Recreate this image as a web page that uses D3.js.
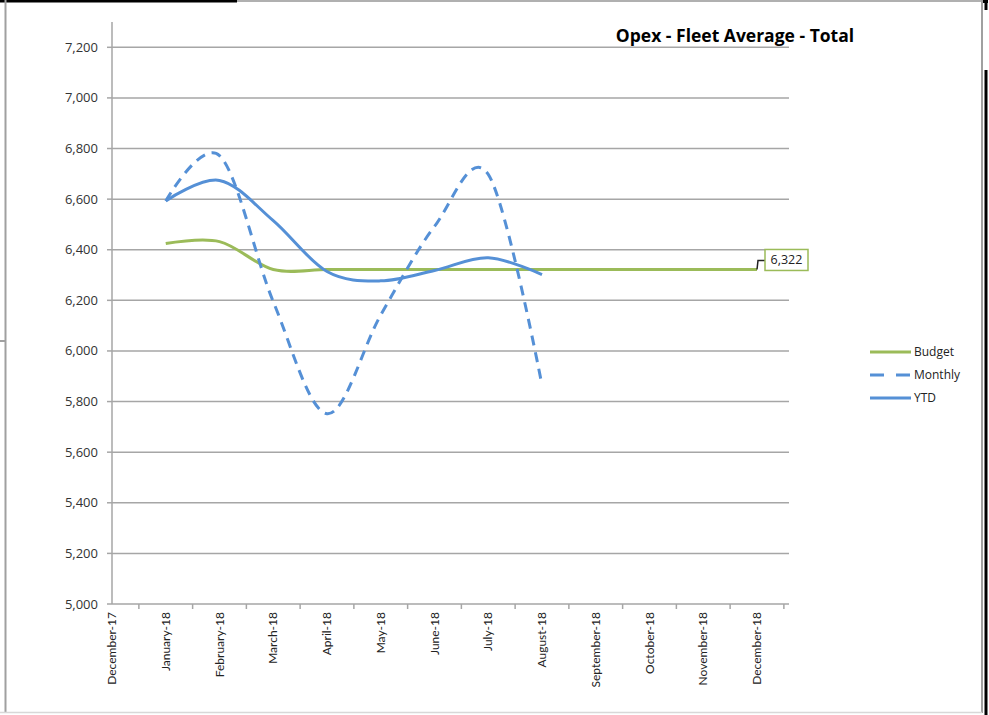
<!DOCTYPE html>
<html>
<head>
<meta charset="utf-8">
<script src="https://cdn.jsdelivr.net/npm/d3@7"></script>
<style>
    body { margin: 0; background: #ffffff; }
    svg { display: block; }
</style>
</head>
<body>
<svg id="chart"></svg>
<script>
const months = ['December-17', 'January-18', 'February-18', 'March-18', 'April-18', 'May-18', 'June-18',
    'July-18', 'August-18', 'September-18', 'October-18', 'November-18', 'December-18'];

const budgetMonths = ['January-18', 'February-18', 'March-18', 'April-18', 'May-18', 'June-18',
    'July-18', 'August-18', 'September-18', 'October-18', 'November-18', 'December-18'];
const budgetValues = [6425, 6432, 6322, 6322, 6322, 6322, 6322, 6322, 6322, 6322, 6322, 6322];

const actualMonths = ['January-18', 'February-18', 'March-18', 'April-18', 'May-18', 'June-18', 'July-18', 'August-18'];
const monthlyValues = [6593, 6772, 6195, 5752, 6142, 6492, 6698, 5865];
const ytdValues = [6593, 6674, 6515, 6314, 6277, 6318, 6368, 6302];

const yTicks = [5000, 5200, 5400, 5600, 5800, 6000, 6200, 6400, 6600, 6800, 7000, 7200];

const legendItems = ['Budget', 'Monthly', 'YTD'];

const budgetColor = '#9bbb59';
const blueColor = '#5590d6';
const gridColor = '#a6a6a6';
const fontFamily = 'Lato, "Open Sans", sans-serif';
const numberFont = '"Open Sans", sans-serif';

const width = 989;
const height = 715;

const svg = d3.select('#chart')
    .attr('width', width)
    .attr('height', height);

const x = d3.scalePoint()
    .domain(months)
    .range([112, 757]);

const y = d3.scaleLinear()
    .domain([5000, 7300])
    .range([604, 22]);

drawFrame();
drawGrid();
drawAxes();
drawSeries();
drawLabel();
drawLegend();

svg.append('text')
    .attr('x', 735)
    .attr('y', 42)
    .attr('text-anchor', 'middle')
    .style('font-family', '"Open Sans", sans-serif')
    .style('font-size', '17.5px')
    .style('font-weight', 'bold')
    .style('fill', '#000')
    .text('Opex - Fleet Average - Total');

function drawFrame() {
    // bits of the screenshot border around the chart
    const frame = svg.append('g');
    frame.append('line').attr('x1', 0).attr('y1', 1).attr('x2', 983).attr('y2', 1)
        .attr('stroke', '#b0b0b0').attr('stroke-width', 2);
    frame.append('line').attr('x1', 0).attr('y1', 1).attr('x2', 237).attr('y2', 1)
        .attr('stroke', '#000').attr('stroke-width', 3);
    frame.append('line').attr('x1', 5.5).attr('y1', 0).attr('x2', 5.5).attr('y2', 713)
        .attr('stroke', '#a0a0a0').attr('stroke-width', 2);
    frame.append('line').attr('x1', 0).attr('y1', 341).attr('x2', 6).attr('y2', 341)
        .attr('stroke', '#a0a0a0').attr('stroke-width', 2);
    frame.append('line').attr('x1', 982).attr('y1', 0).attr('x2', 982).attr('y2', 713)
        .attr('stroke', '#a0a0a0').attr('stroke-width', 2);
    frame.append('line').attr('x1', 0).attr('y1', 712.5).attr('x2', 982).attr('y2', 712.5)
        .attr('stroke', '#d8d8d8').attr('stroke-width', 1.5);
    frame.append('line').attr('x1', 986).attr('y1', 0).attr('x2', 986).attr('y2', 10)
        .attr('stroke', '#000').attr('stroke-width', 3);
    frame.append('line').attr('x1', 983).attr('y1', 1.5).attr('x2', 988).attr('y2', 1.5)
        .attr('stroke', '#000').attr('stroke-width', 3);
    frame.append('line').attr('x1', 986).attr('y1', 70).attr('x2', 986).attr('y2', 715)
        .attr('stroke', '#000').attr('stroke-width', 3);
}

function drawGrid() {
    svg.append('g')
        .selectAll('line')
        .data(yTicks.filter(d => d > 5000))
        .enter()
        .append('line')
        .attr('x1', 112)
        .attr('x2', 789)
        .attr('y1', d => y(d))
        .attr('y2', d => y(d))
        .attr('stroke', gridColor)
        .attr('stroke-width', 1.5);
}

function drawAxes() {
    const yAxis = svg.append('g');

    yAxis.append('line')
        .attr('x1', 112).attr('x2', 112)
        .attr('y1', y.range()[1]).attr('y2', y(5000))
        .attr('stroke', gridColor).attr('stroke-width', 1.5);

    yAxis.selectAll('.ytick')
        .data(yTicks)
        .enter()
        .append('line')
        .attr('class', 'ytick')
        .attr('x1', 107).attr('x2', 112)
        .attr('y1', d => y(d)).attr('y2', d => y(d))
        .attr('stroke', gridColor).attr('stroke-width', 1.5);

    yAxis.selectAll('.ylabel')
        .data(yTicks)
        .enter()
        .append('text')
        .attr('class', 'ylabel')
        .attr('x', 98)
        .attr('y', d => y(d) + 4.5)
        .attr('text-anchor', 'end')
        .style('font-family', numberFont)
        .style('font-size', '13px')
        .style('fill', '#333')
        .text(d => d3.format(',')(d));

    const step = x.step();
    const xAxis = svg.append('g');

    xAxis.append('line')
        .attr('x1', 112).attr('x2', 789)
        .attr('y1', y(5000)).attr('y2', y(5000))
        .attr('stroke', gridColor).attr('stroke-width', 1.5);

    xAxis.selectAll('.xtick')
        .data(months)
        .enter()
        .append('line')
        .attr('class', 'xtick')
        .attr('x1', d => x(d) + step / 2).attr('x2', d => x(d) + step / 2)
        .attr('y1', y(5000)).attr('y2', y(5000) + 5)
        .attr('stroke', gridColor).attr('stroke-width', 1.5);

    xAxis.selectAll('.xlabel')
        .data(months)
        .enter()
        .append('text')
        .attr('class', 'xlabel')
        .attr('transform', d => `translate(${x(d) + 4}, 612) rotate(-90)`)
        .attr('text-anchor', 'end')
        .style('font-family', fontFamily)
        .style('font-size', '12px')
        .style('fill', '#222')
        .text(d => d);
}

function drawSeries() {
    const line = d3.line()
        .x(d => x(d.month))
        .y(d => y(d.value))
        .curve(d3.curveCardinal.tension(0));

    const budgetData = budgetMonths.map((m, i) => ({ month: m, value: budgetValues[i] }));
    const monthlyData = actualMonths.map((m, i) => ({ month: m, value: monthlyValues[i] }));
    const ytdData = actualMonths.map((m, i) => ({ month: m, value: ytdValues[i] }));

    svg.append('path')
        .datum(budgetData)
        .attr('d', line)
        .attr('fill', 'none')
        .attr('stroke', budgetColor)
        .attr('stroke-width', 3);

    svg.append('path')
        .datum(monthlyData)
        .attr('d', line)
        .attr('fill', 'none')
        .attr('stroke', blueColor)
        .attr('stroke-width', 3)
        .attr('stroke-dasharray', '10,7');

    svg.append('path')
        .datum(ytdData)
        .attr('d', line)
        .attr('fill', 'none')
        .attr('stroke', blueColor)
        .attr('stroke-width', 3);
}

function drawLabel() {
    const last = budgetMonths[budgetMonths.length - 1];
    const value = budgetValues[budgetValues.length - 1];
    const px = x(last);
    const py = y(value);

    svg.append('path')
        .attr('d', `M${px},${py} L${px + 1},${py - 9} L${px + 8},${py - 9}`)
        .attr('fill', 'none')
        .attr('stroke', '#222')
        .attr('stroke-width', 1.5);

    svg.append('rect')
        .attr('x', px + 8)
        .attr('y', py - 20)
        .attr('width', 43)
        .attr('height', 21)
        .attr('fill', '#fff')
        .attr('stroke', budgetColor)
        .attr('stroke-width', 1.5);

    svg.append('text')
        .attr('x', px + 29.5)
        .attr('y', py - 5)
        .attr('text-anchor', 'middle')
        .style('font-family', numberFont)
        .style('font-size', '12.5px')
        .style('fill', '#222')
        .text(d3.format(',')(value));
}

function drawLegend() {
    const legend = svg.append('g')
        .attr('transform', 'translate(870, 352)');

    const items = legend.selectAll('.legend-item')
        .data(legendItems)
        .enter()
        .append('g')
        .attr('class', 'legend-item')
        .attr('transform', (d, i) => `translate(0, ${i * 23})`);

    items.append('line')
        .attr('x1', 0)
        .attr('x2', 41)
        .attr('y1', 0)
        .attr('y2', 0)
        .attr('stroke', d => d === 'Budget' ? budgetColor : blueColor)
        .attr('stroke-width', 3)
        .attr('stroke-dasharray', d => d === 'Monthly' ? '14,12' : null);

    items.append('text')
        .attr('x', 44)
        .attr('y', 4)
        .style('font-family', '"Open Sans", sans-serif')
        .style('font-size', '12px')
        .style('fill', '#222')
        .text(d => d);
}
</script>
</body>
</html>
